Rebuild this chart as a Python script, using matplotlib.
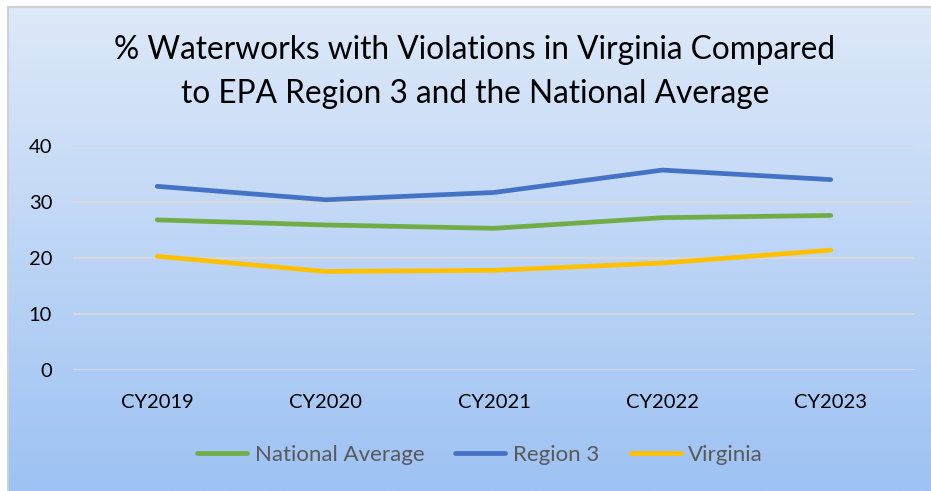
import numpy as np
import matplotlib.pyplot as plt
from matplotlib.patches import Rectangle

plt.rcParams['font.family'] = ['Lato', 'DejaVu Sans']

# data
years = ['CY2019', 'CY2020', 'CY2021', 'CY2022', 'CY2023']
national = [26.8, 25.9, 25.3, 27.2, 27.6]
region3 = [32.8, 30.4, 31.7, 35.7, 34.0]
virginia = [20.3, 17.6, 17.8, 19.1, 21.4]

series = [('National Average', national, '#70ad47'),
          ('Region 3', region3, '#4472c4'),
          ('Virginia', virginia, '#ffc000')]

fig = plt.figure(figsize=(9.31, 4.91), dpi=100)
fig.patch.set_facecolor('white')

# gradient background
bg = fig.add_axes([8/931, 0, 1 - 8/931, 1 - 7/491])
grad = np.linspace(0, 1, 256).reshape(-1, 1)
top = np.array([0xde, 0xe9, 0xf9]) / 255
bot = np.array([0x9d, 0xc2, 0xf3]) / 255
img = top + (bot - top) * grad[:, :, None]
bg.imshow(img, aspect='auto', extent=[0, 1, 0, 1], origin='upper')
bg.set_axis_off()
fig.add_artist(Rectangle((8/931, -0.01), 1, 1 - 7/491 + 0.01, transform=fig.transFigure,
                         fill=False, edgecolor='#d0d0d0', lw=1.5))

ax = fig.add_axes([73/931, 1 - 370/491, (915 - 73)/931, (370 - 146)/491])
ax.patch.set_alpha(0)
x = np.arange(len(years))
for name, vals, col in series:
    ax.plot(x, vals, color=col, lw=3.4, solid_capstyle='round', solid_joinstyle='round', label=name)

ax.set_xlim(-0.5, 4.5)
ax.set_ylim(0, 40)
ax.set_yticks([0, 10, 20, 30, 40])
ax.set_xticks(x)
ax.set_xticklabels(years)
ax.grid(axis='y', color='#d5d8dc', lw=1.5)
ax.set_axisbelow(True)
for s in ax.spines.values():
    s.set_visible(False)
ax.tick_params(length=0, labelsize=14.5, colors='black')
ax.tick_params(axis='y', pad=15)
ax.tick_params(axis='x', pad=17)

fig.text(475/931, 1 - 72/491, '% Waterworks with Violations in Virginia Compared\nto EPA Region 3 and the National Average',
         ha='center', va='center', fontsize=22.8, linespacing=1.6)

fig.legend(loc='center', bbox_to_anchor=(480/931, 1 - 455/491), ncol=3, frameon=False,
           fontsize=16, labelcolor='#595959', handlelength=2.25, handletextpad=0.35,
           columnspacing=1.4)

fig.savefig('out.png', dpi=100)
